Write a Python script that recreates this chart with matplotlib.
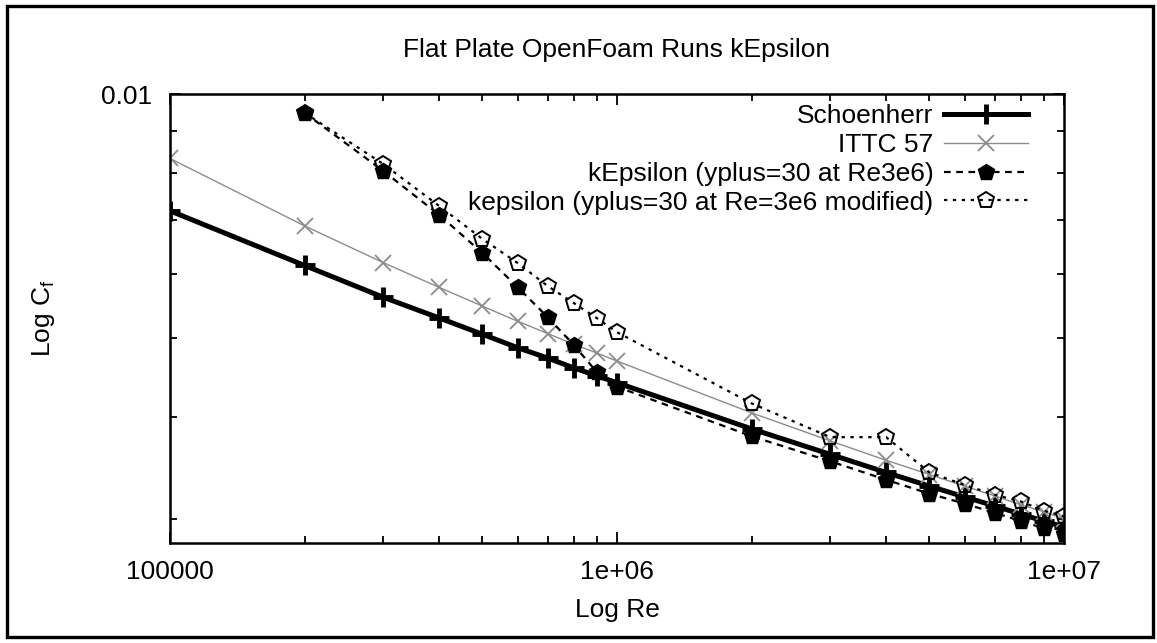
import matplotlib
matplotlib.use("Agg")
import matplotlib.pyplot as plt
from matplotlib.patches import Rectangle

plt.rcParams['font.family'] = ['Liberation Sans', 'DejaVu Sans']
plt.rcParams['mathtext.default'] = 'regular'

# Reynolds numbers of the runs
re = [1e5, 2e5, 3e5, 4e5, 5e5, 6e5, 7e5, 8e5, 9e5,
      1e6, 2e6, 3e6, 4e6, 5e6, 6e6, 7e6, 8e6, 9e6, 1e7]
re_cfd = re[1:]

# friction lines
schoenherr = [0.00718, 0.00615, 0.00562, 0.00530, 0.00506, 0.00487, 0.00473, 0.00460, 0.00450,
              0.00441, 0.00387, 0.00360, 0.00342, 0.00329, 0.00319, 0.00311, 0.00304, 0.00298, 0.00293]
ittc57 = [0.00833, 0.00688, 0.00620, 0.00578, 0.00548, 0.00525, 0.00507, 0.00492, 0.00480,
          0.00469, 0.00405, 0.00374, 0.00354, 0.00340, 0.00329, 0.00320, 0.00312, 0.00306, 0.00300]

# OpenFOAM kEpsilon results
keps = [0.00948, 0.00804, 0.00710, 0.00637, 0.00578, 0.00531, 0.00491, 0.00455,
        0.00436, 0.00379, 0.00353, 0.00335, 0.00322, 0.00313, 0.00305, 0.00298, 0.00292, 0.00287]
keps_mod = [0.00948, 0.00820, 0.00728, 0.00663, 0.00619, 0.00580, 0.00553, 0.00530,
            0.00509, 0.00416, 0.00378, 0.00378, 0.00342, 0.00330, 0.00321, 0.00315, 0.00307, 0.00302]

W, H = 1157, 643
fig = plt.figure(figsize=(W / 100, H / 100), dpi=100)
ax = fig.add_axes([170 / W, 100 / H, 894 / W, 449 / H])

ax.plot(re, schoenherr, color='black', lw=3.6, marker='+', ms=14, mew=3.5,
        label='Schoenherr')
ax.plot(re, ittc57, color='#8c8c8c', lw=1.0, marker='x', ms=12, mew=1.3,
        label='ITTC 57')
ax.plot(re_cfd, keps, color='black', lw=1.6, ls=(0, (3, 2.5)), marker='p', ms=12,
        label='kEpsilon (yplus=30 at Re3e6)')
ax.plot(re_cfd, keps_mod, color='black', lw=1.6, ls=(0, (1.5, 2.5)), marker='p', ms=12,
        mfc='none', mew=1.4, label='kepsilon (yplus=30 at Re=3e6 modified)')

ax.set_xscale('log')
ax.set_yscale('log')
ax.set_xlim(1e5, 1e7)
ax.set_ylim(0.0028, 0.01)

ax.set_xticks([1e5, 1e6, 1e7])
ax.set_xticklabels(['100000', '1e+06', '1e+07'])
ax.set_yticks([0.01])
ax.set_yticklabels(['0.01'])
ax.set_xticks([k * 10 ** e for e in (5, 6) for k in range(2, 10)], minor=True)
ax.set_yticks([0.003, 0.004, 0.005, 0.006, 0.007, 0.008, 0.009], minor=True)
ax.yaxis.set_minor_formatter(plt.NullFormatter())
ax.xaxis.set_minor_formatter(plt.NullFormatter())

ax.tick_params(which='both', direction='in', top=True, right=True, width=1.3,
               labelsize=19, colors='black')
ax.tick_params(which='major', length=8)
ax.tick_params(which='minor', length=5)
ax.tick_params(axis='x', pad=12)
ax.tick_params(axis='y', pad=13)
for sp in ax.spines.values():
    sp.set_linewidth(1.8)

ax.set_title('Flat Plate OpenFoam Runs kEpsilon', fontsize=19, pad=27)
ax.set_xlabel('Log Re', fontsize=19, labelpad=10)
ax.set_ylabel('Log C$_{f}$', fontsize=19)
ax.yaxis.set_label_coords(-0.126, 0.5)

ax.legend(loc='upper right', bbox_to_anchor=(0.978, 1.012), frameon=False,
          markerfirst=False, fontsize=19, handlelength=3.2, handletextpad=0.4,
          labelspacing=0.18, borderaxespad=0.2)

# outer frame
fig.add_artist(Rectangle((7 / W, 6 / H), 1146 / W, 631 / H, transform=fig.transFigure,
                         fill=False, lw=2.4, ec='black'))

fig.savefig('out.png', dpi=100)
